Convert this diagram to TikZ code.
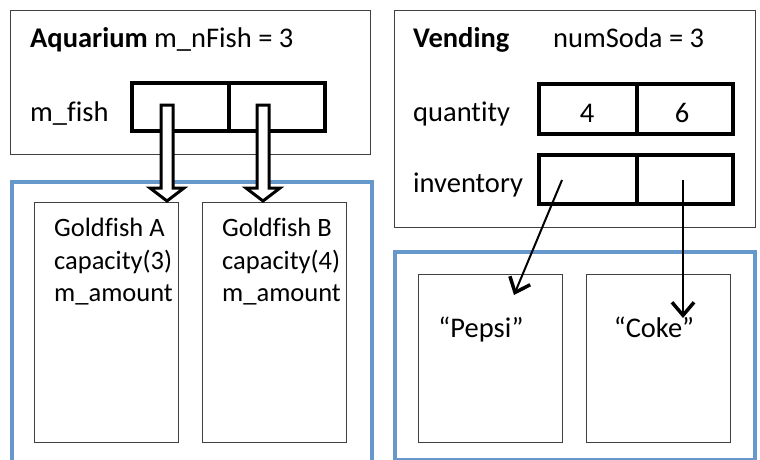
\documentclass[tikz,border=0pt]{standalone}
\usepackage{fontspec}
\setmainfont{Carlito}[Ligatures={NoCommon}]
\usetikzlibrary{arrows.meta,calc}
\definecolor{boxblue}{RGB}{102,152,204}
\definecolor{framegray}{RGB}{64,64,64}
\begin{document}
\begin{tikzpicture}[x=1pt,y=-1pt,
  frame/.style={draw=framegray, line width=1pt, anchor=north west, inner sep=0pt},
  cellbox/.style={draw=black, line width=3.5pt, anchor=north west, inner sep=0pt},
  bluebox/.style={draw=boxblue, line width=4pt, anchor=north west, inner sep=0pt},
  txt/.style={anchor=base west, inner sep=0pt, font=\fontsize{28.5}{33}\selectfont},
  stxt/.style={anchor=base west, inner sep=0pt, font=\fontsize{26.5}{32}\selectfont},
  ctxt/.style={anchor=base, inner sep=0pt, font=\fontsize{28.5}{33}\selectfont},
  hollow/.style={draw=black, fill=white, line width=3pt, line join=miter},
  ptrarrow/.style={draw=black, line width=2pt, -{Straight Barb[length=13pt,width=22pt,line width=3.5pt]}}
]
\useasboundingbox (0,0) rectangle (760,460);
\begin{scope}
\clip (0,0) rectangle (760,460);
% Aquarium
\node[frame, minimum width=360pt, minimum height=144pt] (aq) at (10,10) {};
\node[cellbox, minimum width=97pt, minimum height=48pt] (f1) at (130,81) {};
\node[cellbox, minimum width=96pt, minimum height=48pt] (f2) at (227,81) {};
\node[txt] (aqt) at (30,48) {\textbf{Aquarium} m\_nFish = 3};
\node[txt] (mf) at (30,121) {m\_fish};
\node[bluebox, minimum width=360pt, minimum height=300pt] (bl) at (10,180) {};
\node[frame, minimum width=144pt, minimum height=240pt] (ga) at (34,202) {};
\node[frame, minimum width=144pt, minimum height=240pt] (gb) at (202,202) {};
\node[stxt] (ga1) at (54,236) {Goldfish A};
\node[stxt] (ga2) at (54,269) {capacity(3)};
\node[stxt] (ga3) at (54,301) {m\_amount};
\node[stxt] (gb1) at (222,236) {Goldfish B};
\node[stxt] (gb2) at (222,269) {capacity(4)};
\node[stxt] (gb3) at (222,301) {m\_amount};
% Vending
\node[frame, minimum width=361pt, minimum height=217pt] (vd) at (394,10) {};
\node[txt] (vdt) at (413,48) {\textbf{Vending}};
\node[txt] (ns) at (553,48) {numSoda = 3};
\node[txt] (qt) at (413,121) {quantity};
\node[txt] (inv) at (413,192) {inventory};
\node[cellbox, minimum width=98pt, minimum height=50pt] (q1) at (537,82) {};
\node[cellbox, minimum width=96pt, minimum height=50pt] (q2) at (635,82) {};
\node[cellbox, minimum width=98pt, minimum height=49pt] (i1) at (537,153) {};
\node[cellbox, minimum width=96pt, minimum height=49pt] (i2) at (635,153) {};
\node[ctxt] (q1t) at (587,122) {4};
\node[ctxt] (q2t) at (682,122) {6};
\node[bluebox, minimum width=360pt, minimum height=208pt] (br) at (393,250) {};
\node[frame, minimum width=144pt, minimum height=168pt] (pb) at (418,274) {};
\node[frame, minimum width=144pt, minimum height=168pt] (cb) at (586,274) {};
\node[ctxt] (pt) at (481,337) {“Pepsi”};
\node[ctxt] (ct) at (654,337) {“Coke”};
% hollow arrows
\coordinate (hA0) at (167,105);
\coordinate (hA1) at (167,201);
\coordinate (hB0) at (263,105);
\coordinate (hB1) at (263,201);
\foreach \s/\e in {hA0/hA1, hB0/hB1}{
  \draw[hollow] ($(\s)+(-6,0)$) -- ($(\e)+(-6,-13)$) -- ($(\e)+(-17,-13)$) -- (\e)
     -- ($(\e)+(17,-13)$) -- ($(\e)+(6,-13)$) -- ($(\s)+(6,0)$) -- cycle;
}
% pointer arrows
\coordinate (p0) at (562,180);
\coordinate (p1) at (514,295);
\coordinate (c0) at (683,180);
\coordinate (c1) at (683,318);
\draw[ptrarrow] (p0) -- (p1);
\draw[ptrarrow] (c0) -- (c1);
\end{scope}
\end{tikzpicture}
\end{document}
